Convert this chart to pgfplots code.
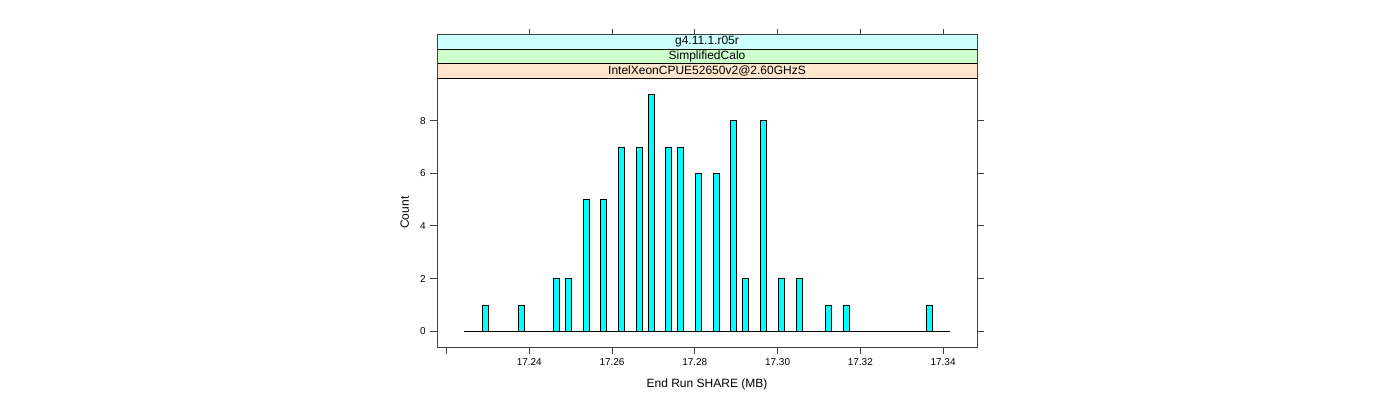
\documentclass[border=0pt]{standalone}
\usepackage{pgfplots}
\pgfplotsset{compat=1.18}
\usepackage{fontspec}
\setmainfont{Liberation Sans}
\definecolor{barcyan}{HTML}{00FFFF}
\definecolor{stripA}{HTML}{FFE5CC}
\definecolor{stripB}{HTML}{CCFFCC}
\definecolor{stripC}{HTML}{CCFFFF}
\definecolor{axgray}{HTML}{404040}
\begin{document}
\begin{tikzpicture}
\path (0,0) rectangle (1050pt,300pt);
% outer box incl. strips, top ticks
\begin{axis}[
  at={(327.75pt,39.5pt)}, anchor=south west,
  width=405pt, height=234.5pt, scale only axis,
  xmin=17.2177, xmax=17.3482, ymin=0, ymax=1,
  xtick={17.24,17.26,17.28,17.30,17.32,17.34},
  xtick pos=right, xticklabels={}, ytick=\empty,
  tick align=outside, major tick length=4.5pt,
  axis line style={axgray, line width=0.7pt},
  every tick/.style={axgray, line width=0.7pt},
]
\end{axis}
\begin{axis}[
  at={(327.75pt,39.5pt)}, anchor=south west,
  width=405pt, height=202pt, scale only axis,
  xmin=17.2177, xmax=17.3482, ymin=-0.61, ymax=9.62,
  xtick={17.22,17.24,17.26,17.28,17.30,17.32,17.34},
  xticklabels={,17.24,17.26,17.28,17.30,17.32,17.34},
  ytick={0,2,4,6,8},
  xtick pos=left, ytick pos=both, yticklabel pos=left,
  tick align=outside, major tick length=5pt,
  axis line style={axgray, line width=0.7pt},
  every tick/.style={axgray, line width=0.7pt},
  tick label style={font=\fontsize{7.5}{9}\selectfont},
  /pgf/number format/assume math mode=true,
  yticklabel style={/pgf/number format/fixed},
  xticklabel style={/pgf/number format/fixed},
  xlabel={End Run SHARE (MB)}, ylabel={Count},
  label style={font=\fontsize{9}{11}\selectfont},
  xlabel style={at={(axis description cs:0.5,-0.138)}, anchor=center},
  ylabel style={at={(axis description cs:-0.0598,0.5)}, anchor=center, rotate=0},
]
\addplot[black, line width=0.6pt] coordinates {(17.2243,0) (17.3417,0)};
\addplot[ybar, bar width=0.00145, fill=barcyan, draw=black, line width=0.6pt] coordinates {
(17.2294,1) (17.2380,1) (17.2465,2) (17.2494,2) (17.2537,5) (17.2580,5)
(17.2622,7) (17.2667,7) (17.2695,9) (17.2737,7) (17.2766,7) (17.2808,6)
(17.2852,6) (17.2894,8) (17.2923,2) (17.2965,8) (17.3009,2) (17.3052,2)
(17.3123,1) (17.3166,1) (17.3367,1)};
\end{axis}
% strips
\filldraw[fill=stripA, draw=black, line width=0.7pt] (327.75pt,241.5pt) rectangle (732.75pt,252.2pt);
\filldraw[fill=stripB, draw=black, line width=0.7pt] (327.75pt,252.2pt) rectangle (732.75pt,263.0pt);
\filldraw[fill=stripC, draw=black, line width=0.7pt] (327.75pt,263.0pt) rectangle (732.75pt,274.0pt);
\draw[axgray, line width=0.7pt] (327.75pt,241.5pt) -- (327.75pt,274pt) -- (732.75pt,274pt) -- (732.75pt,241.5pt);
\node[font=\fontsize{9}{11}\selectfont, inner sep=0pt] at (530.25pt,246.85pt) {IntelXeonCPUE52650v2@2.60GHzS};
\node[font=\fontsize{9}{11}\selectfont, inner sep=0pt] at (530.25pt,257.6pt) {SimplifiedCalo};
\node[font=\fontsize{9}{11}\selectfont, inner sep=0pt] at (530.25pt,268.5pt) {g4.11.1.r05r};
\end{tikzpicture}
\end{document}
